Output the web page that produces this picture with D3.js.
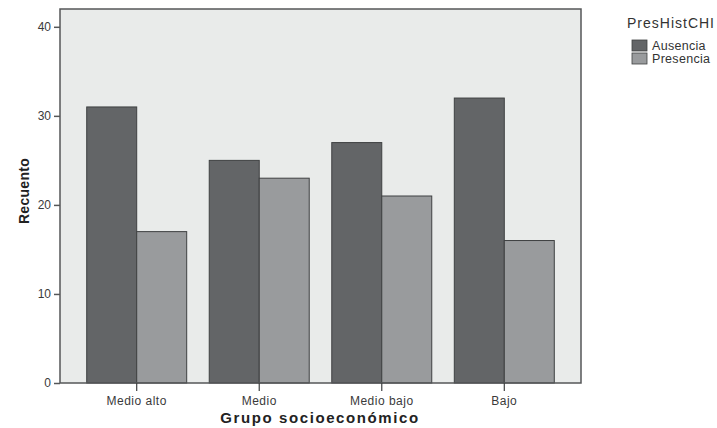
<!DOCTYPE html>
<html>
<head>
<meta charset="utf-8">
<script src="https://cdn.jsdelivr.net/npm/d3@7"></script>
<style>
  html, body { margin: 0; padding: 0; background: #ffffff; }
  svg { display: block; font-family: Arial, "Liberation Sans", sans-serif; }
</style>
</head>
<body>
<svg id="chart" width="717" height="428"></svg>
<script>
const categories = ["Medio alto", "Medio", "Medio bajo", "Bajo"];
const seriesNames = ["Ausencia", "Presencia"];
const ausencia = [31, 25, 27, 32];
const presencia = [17, 23, 21, 16];
const yTicks = [0, 10, 20, 30, 40];
const legendTitle = "PresHistCHI";
const xTitle = "Grupo socioeconómico";
const yTitle = "Recuento";

const colors = { Ausencia: "#636567", Presencia: "#999b9d" };
const series = [ausencia, presencia];

const svg = d3.select("#chart");
const frame = { left: 60, right: 581, top: 9, bottom: 383 };

const x = d3.scaleBand().domain(categories)
  .range([frame.left, frame.right])
  .paddingInner(0.184).paddingOuter(0.218);
const xs = d3.scaleBand().domain(seriesNames).range([0, x.bandwidth()]);
const y = d3.scaleLinear().domain([0, 42]).range([frame.bottom, frame.top]);

// plot background
svg.append("rect")
  .attr("x", frame.left).attr("y", frame.top)
  .attr("width", frame.right - frame.left).attr("height", frame.bottom - frame.top)
  .attr("fill", "#e9ebea");

// bars
const groups = svg.append("g").selectAll("g").data(categories).join("g")
  .attr("transform", d => `translate(${x(d)},0)`);
groups.selectAll("rect")
  .data((d, i) => seriesNames.map((s, j) => ({ s, v: series[j][i] })))
  .join("rect")
  .attr("x", d => xs(d.s))
  .attr("y", d => y(d.v))
  .attr("width", xs.bandwidth())
  .attr("height", d => y(0) - y(d.v))
  .attr("fill", d => colors[d.s])
  .attr("stroke", "#3f4142")
  .attr("stroke-width", 1);

// frame
svg.append("rect")
  .attr("x", frame.left).attr("y", frame.top)
  .attr("width", frame.right - frame.left).attr("height", frame.bottom - frame.top)
  .attr("fill", "none").attr("stroke", "#555758").attr("stroke-width", 1.5);

// y axis
const yAxis = svg.append("g")
  .attr("transform", `translate(${frame.left},0)`)
  .call(d3.axisLeft(y).tickValues(yTicks).tickSize(6).tickPadding(3).tickFormat(d3.format("d")));
yAxis.select(".domain").remove();
yAxis.selectAll(".tick line").attr("stroke", "#555758").attr("stroke-width", 1.5);
yAxis.selectAll(".tick text").attr("fill", "#3a3a3a")
  .style("font-size", "12px").style("font-family", "Arial, 'Liberation Sans', sans-serif");

// x axis
const xAxis = svg.append("g")
  .attr("transform", `translate(0,${frame.bottom})`)
  .call(d3.axisBottom(x).tickSize(8).tickPadding(5));
xAxis.select(".domain").remove();
xAxis.selectAll(".tick line").attr("stroke", "#3f4142").attr("stroke-width", 1.2);
xAxis.selectAll(".tick text").attr("fill", "#3a3a3a")
  .style("font-size", "12px").style("letter-spacing", "0.5px")
  .style("font-family", "Arial, 'Liberation Sans', sans-serif");

// axis titles
svg.append("text")
  .attr("x", 320).attr("y", 423)
  .attr("text-anchor", "middle")
  .style("font-size", "15px").style("font-weight", "bold").style("letter-spacing", "1.6px")
  .attr("fill", "#222")
  .text(xTitle);

svg.append("text")
  .attr("transform", "translate(29,191) rotate(-90)")
  .attr("text-anchor", "middle")
  .style("font-size", "14px").style("font-weight", "bold").style("letter-spacing", "0.3px")
  .attr("fill", "#222")
  .text(yTitle);

// legend
const legend = svg.append("g");
legend.append("text")
  .attr("x", 627).attr("y", 28)
  .style("font-size", "14px").style("letter-spacing", "1px")
  .attr("fill", "#333")
  .text(legendTitle);
const li = legend.selectAll("g.item").data(seriesNames).join("g")
  .attr("class", "item")
  .attr("transform", (d, i) => `translate(632,${40 + i * 13})`);
li.append("rect")
  .attr("width", 15).attr("height", 11)
  .attr("fill", d => colors[d]).attr("stroke", "#3f4142").attr("stroke-width", 0.8);
li.append("text")
  .attr("x", 20).attr("y", 9.5)
  .style("font-size", "12.5px").style("letter-spacing", "0.3px")
  .attr("fill", "#333")
  .text(d => d);
</script>
</body>
</html>
